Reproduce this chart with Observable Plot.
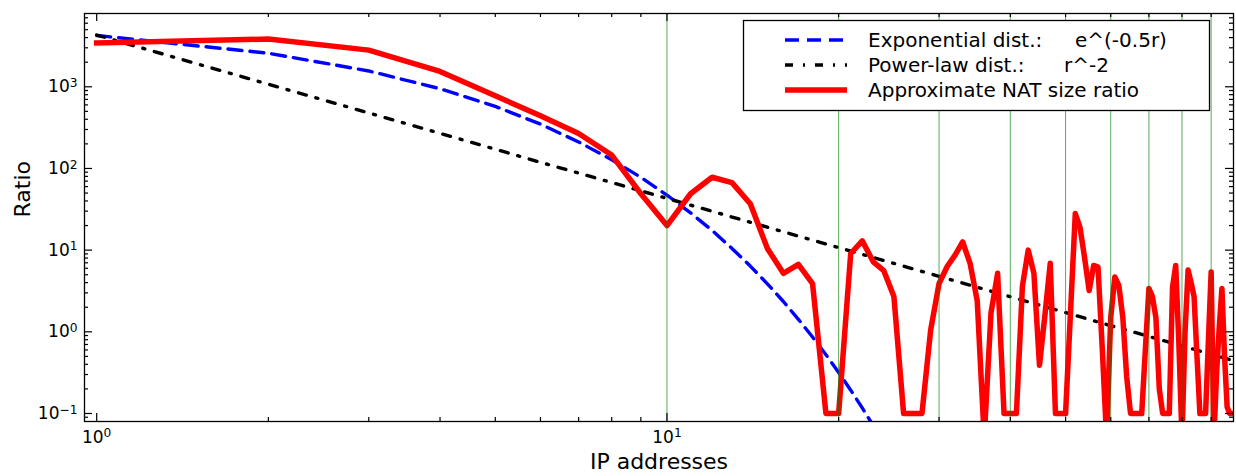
<!DOCTYPE html>
<html>
<head>
<meta charset="utf-8">
<script src="https://cdn.jsdelivr.net/npm/d3@7"></script>
<script src="https://cdn.jsdelivr.net/npm/@observablehq/plot@0.6"></script>
<style>
  html, body { margin: 0; padding: 0; background: #fff; }
  #chart svg { display: block; }
</style>
</head>
<body>
<div id="chart"></div>
<script>
// ---- data ----
const ranks = d3.range(1, 99); // IP addresses 1..98

const natRatio = [
  3430, 3840, 2810, 1540, 776, 442, 268, 146, 49, 20,
  49, 78, 67, 37, 10.5, 5.2, 6.7, 3.9, 0.1, 0.1,
  9.1, 13, 7.2, 5.6, 2.7, 0.1, 0.1, 0.1, 1.05, 3.9,
  6.3, 8.7, 12.6, 6.9, 2.4, 0.05, 1.7, 5.2, 0.1, 0.1,
  0.1, 3.6, 10, 5.2, 0.39, 1.6, 6.9, 0.1, 0.1, 0.1,
  1.7, 28, 19, 8, 3.2, 6.5, 6.2, 0.6, 0.05, 1.5,
  4.7, 3.7, 1.5, 0.28, 0.1, 0.1, 0.1, 0.1, 0.6, 3.4,
  2.7, 1.5, 0.2, 0.1, 0.1, 0.1, 3.5, 6.5, 0.72, 0.05,
  1.0, 5.7, 4.0, 2.7, 0.5, 0.1, 0.1, 0.1, 0.78, 5.4,
  0.05, 0.31, 1.14, 3.4, 0.5, 0.12, 0.1, 0.1
];

const expRanks = d3.range(1, 24);
const expValues = [
  4246, 2575, 1562, 947, 575, 349, 211, 128, 77.8, 47.2,
  28.6, 17.4, 10.5, 6.38, 3.87, 2.35, 1.42, 0.864, 0.524, 0.318,
  0.193, 0.117, 0.071
];

const powRanks = [1, 2, 3, 4, 5, 6, 7, 8, 9, 10, 12, 15, 20, 25, 30, 40, 50, 60, 70, 80, 90, 98];
const powValues = [4300, 1075, 478, 269, 172, 119, 87.8, 67.2, 53.1, 43, 29.9, 19.1, 10.75, 6.88, 4.78, 2.69, 1.72, 1.19, 0.878, 0.672, 0.531, 0.448];

const gridX = [10, 20, 30, 40, 50, 60, 70, 80, 90];
const xMajor = [1, 10];
const xMinor = [2, 3, 4, 5, 6, 7, 8, 9, 20, 30, 40, 50, 60, 70, 80, 90];
const yMajor = [0.1, 1, 10, 100, 1000];
const yMinor = [0.09,
  0.2, 0.3, 0.4, 0.5, 0.6, 0.7, 0.8, 0.9,
  2, 3, 4, 5, 6, 7, 8, 9,
  20, 30, 40, 50, 60, 70, 80, 90,
  200, 300, 400, 500, 600, 700, 800, 900,
  2000, 3000, 4000, 5000, 6000, 7000];

const legendItems = [
  {label: "Exponential dist.:", formula: "e^(-0.5r)", color: "#0000ff", dash: "14,8", width: 3.4, fx: 1075},
  {label: "Power-law dist.:", formula: "r^-2", color: "#000000", dash: "8,10,2,10", width: 3.4, fx: 1064},
  {label: "Approximate NAT size ratio", formula: "", color: "#ff0000", dash: null, width: 5.5, fx: 0}
];

const xTitle = "IP addresses";
const yTitle = "Ratio";

// ---- tables ----
const nat = ranks.map((r, i) => ({r, v: natRatio[i]}));
const expo = expRanks.map((r, i) => ({r, v: expValues[i]}));
const pow = powRanks.map((r, i) => ({r, v: powValues[i]}));

// ---- layout ----
const W = 1236, H = 476;
const mL = 84, mR = 3, mT = 13, mB = 55;
const fw = W - mL - mR, fh = H - mT - mB;

const expo10 = d => String(Math.round(Math.log10(d))).replace("-", "\u2212");

const plot = Plot.plot({
  width: W, height: H,
  marginLeft: mL, marginRight: mR, marginTop: mT, marginBottom: mB,
  style: {fontFamily: "'DejaVu Sans', sans-serif", fontSize: "17px", color: "#000", background: "#fff"},
  x: {type: "log", domain: [0.952, 98.5]},
  y: {type: "log", domain: [0.0798, 7890]},
  marks: [
    Plot.line(expo, {x: "r", y: "v", stroke: "#0000ff", strokeWidth: 3.4, strokeDasharray: "14,8", clip: true}),
    Plot.line(pow, {x: "r", y: "v", stroke: "#000", strokeWidth: 3.4, strokeDasharray: "8,10,2,10", clip: true}),
    Plot.line(nat, {x: "r", y: "v", stroke: "#ff0000", strokeWidth: 5.5, strokeLinejoin: "round", strokeLinecap: "square", clip: true}),
    Plot.ruleX(gridX, {stroke: "#008000", strokeOpacity: 0.65, strokeWidth: 1}),
    // inward ticks on all four sides
    Plot.tickX(xMajor, {insetTop: fh - 8, stroke: "#000", strokeWidth: 1.2}),
    Plot.tickX(xMajor, {insetBottom: fh - 8, stroke: "#000", strokeWidth: 1.2}),
    Plot.tickX(xMinor, {insetTop: fh - 4, stroke: "#000", strokeWidth: 1.2}),
    Plot.tickX(xMinor, {insetBottom: fh - 4, stroke: "#000", strokeWidth: 1.2}),
    Plot.tickY(yMajor, {insetRight: fw - 8, stroke: "#000", strokeWidth: 1.2}),
    Plot.tickY(yMajor, {insetLeft: fw - 8, stroke: "#000", strokeWidth: 1.2}),
    Plot.tickY(yMinor, {insetRight: fw - 4, stroke: "#000", strokeWidth: 1.2}),
    Plot.tickY(yMinor, {insetLeft: fw - 4, stroke: "#000", strokeWidth: 1.2}),
    Plot.frame({stroke: "#000", strokeWidth: 1.3}),
    Plot.axisX({ticks: xMajor, tickSize: 0, tickPadding: 9, tickFormat: expo10, label: null}),
    Plot.axisY({ticks: yMajor, tickSize: 0, tickPadding: 7, tickFormat: expo10, label: null}),
    Plot.text([xTitle], {text: d => d, frameAnchor: "bottom", dy: 47, fontSize: 22}),
    Plot.text([yTitle], {text: d => d, frameAnchor: "left", dx: -62, rotate: -90, fontSize: 22})
  ]
});

document.getElementById("chart").appendChild(plot);

// turn exponent tick labels into 10^n with a superscript
const svg = d3.select(plot);
svg.selectAll('g[aria-label="x-axis tick label"] text, g[aria-label="y-axis tick label"] text').each(function () {
  const e = this.textContent;
  const t = d3.select(this);
  t.text("10");
  t.append("tspan").attr("dy", "-0.42em").attr("font-size", "0.72em").text(e);
});

// legend box (upper right, inside the frame)
const lg = svg.append("g")
  .attr("font-family", "'DejaVu Sans', sans-serif")
  .attr("font-size", 20)
  .attr("text-anchor", "start");
lg.append("rect").attr("x", 743.5).attr("y", 20.5).attr("width", 466).attr("height", 90)
  .attr("fill", "#fff").attr("stroke", "#000").attr("stroke-width", 1.3);
legendItems.forEach((d, i) => {
  const cy = 40 + i * 25;
  const ln = lg.append("line").attr("x1", 785).attr("x2", 847).attr("y1", cy).attr("y2", cy)
    .attr("stroke", d.color).attr("stroke-width", d.width);
  if (d.dash) ln.attr("stroke-dasharray", d.dash);
  const tx = lg.append("text").attr("x", 868).attr("y", cy).attr("dy", "0.36em")
    .attr("text-anchor", "start").text(d.label);
  if (d.formula) tx.append("tspan").attr("x", d.fx).text(d.formula);
});
</script>
</body>
</html>
